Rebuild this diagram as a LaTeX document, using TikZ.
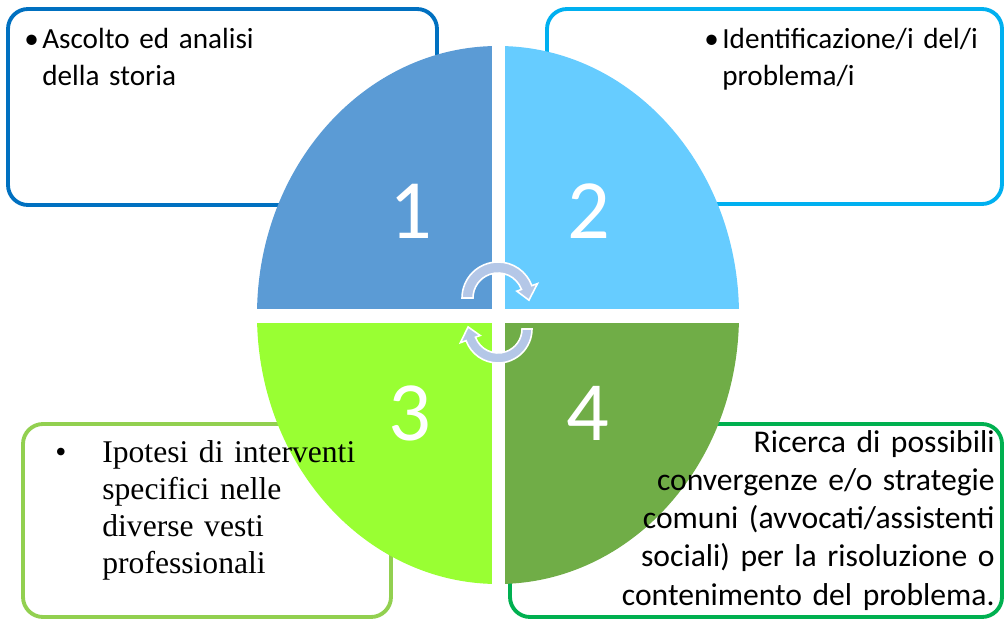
\documentclass[tikz,border=0pt]{standalone}
\usepackage{fontspec}
\setmainfont{Carlito}
\newfontfamily\timesfont{Liberation Serif}

\definecolor{quadA}{HTML}{5B9BD5}
\definecolor{quadB}{HTML}{66CCFF}
\definecolor{quadC}{HTML}{99FF33}
\definecolor{quadD}{HTML}{70AD47}
\definecolor{edgeA}{HTML}{0070C0}
\definecolor{edgeB}{HTML}{00B0F0}
\definecolor{edgeC}{HTML}{92D050}
\definecolor{edgeD}{HTML}{00B050}
\definecolor{cyclearrow}{HTML}{B4C7E7}

\tikzset{
  phasebox/.style={line width=2.2pt, rounded corners=0.4cm},
  phasenum/.style={text=white, inner sep=0pt, font=\fontsize{48}{50}\selectfont},
  calibritext/.style={inner sep=0pt, font=\fontsize{16.6}{21}\selectfont, align=left, text width=6cm},
  loopfill/.style={fill=cyclearrow, draw=white, line width=0.9pt, line join=miter},
}

\begin{document}
\begin{tikzpicture}[x=0.02cm,y=0.02cm]
\useasboundingbox (0,0) rectangle (1004,619);

\draw[phasebox, edgeA] (8,414) rectangle (437,610);
\draw[phasebox, edgeB] (547,415) rectangle (1002,610);
\draw[phasebox, edgeC] (23,2) rectangle (391,195);
\draw[phasebox, edgeD] (510,2) rectangle (1002,195);

% four quarters of the cycle
\fill[quadA] (498,304) -- (257,304) arc[start angle=180, end angle=90, x radius=241, y radius=269] -- cycle;
\fill[quadB] (498,304) -- (498,573) arc[start angle=90, end angle=0, x radius=241, y radius=269] -- cycle;
\fill[quadC] (498,304) -- (257,304) arc[start angle=180, end angle=270, x radius=241, y radius=269] -- cycle;
\fill[quadD] (498,304) -- (739,304) arc[start angle=0, end angle=-90, x radius=241, y radius=269] -- cycle;

\fill[white] (491.7,30) rectangle (505,580);
\fill[white] (250,296.3) rectangle (746,309.7);

\node[phasenum] (num1) at (410.5,407.5) {1};
\node[phasenum] (num2) at (588.5,407.5) {2};
\node[phasenum] (num3) at (409.5,205.5) {3};
\node[phasenum] (num4) at (587.5,205.5) {4};

% circular arrows
\begin{scope}[shift={(498,321)}]
\filldraw[loopfill] (180:36) arc[start angle=180, end angle=20, radius=36] -- (20:42) -- (-4:31) -- (20:20) -- (20:25) arc[start angle=20, end angle=180, radius=25] -- cycle;
\end{scope}
\begin{scope}[shift={(498,290)}]
\filldraw[loopfill] (0:34) arc[start angle=0, end angle=-160, radius=34] -- (-160:40) -- (176:30) -- (-160:19) -- (-160:24) arc[start angle=-160, end angle=0, radius=24] -- cycle;
\end{scope}

\node[calibritext, anchor=base west] (story) at (42,570) {\llap{\makebox[0.36cm][l]{\textbullet}}Ascolto ed analisi\\della storia};
\node[calibritext, anchor=base west] (problem) at (722,570) {\llap{\makebox[0.36cm][l]{\textbullet}}Identificazione/i del/i\\problema/i};
\node[inner sep=0pt, font=\timesfont\fontsize{18}{20.9}\selectfont, align=left, text width=7cm, anchor=base west] (interventions) at (102,156) {\llap{\makebox[0.94cm][l]{\textbullet}}Ipotesi di interventi\\specifici nelle\\diverse vesti\\professionali};
\node[inner sep=0pt, font=\fontsize{18}{21.8}\selectfont, align=right, text width=8cm, anchor=base east] (strategies) at (995,167) {Ricerca di possibili\\convergenze e/o strategie\\comuni (avvocati/assistenti\\sociali) per la risoluzione o\\contenimento del problema.};

\end{tikzpicture}
\end{document}
